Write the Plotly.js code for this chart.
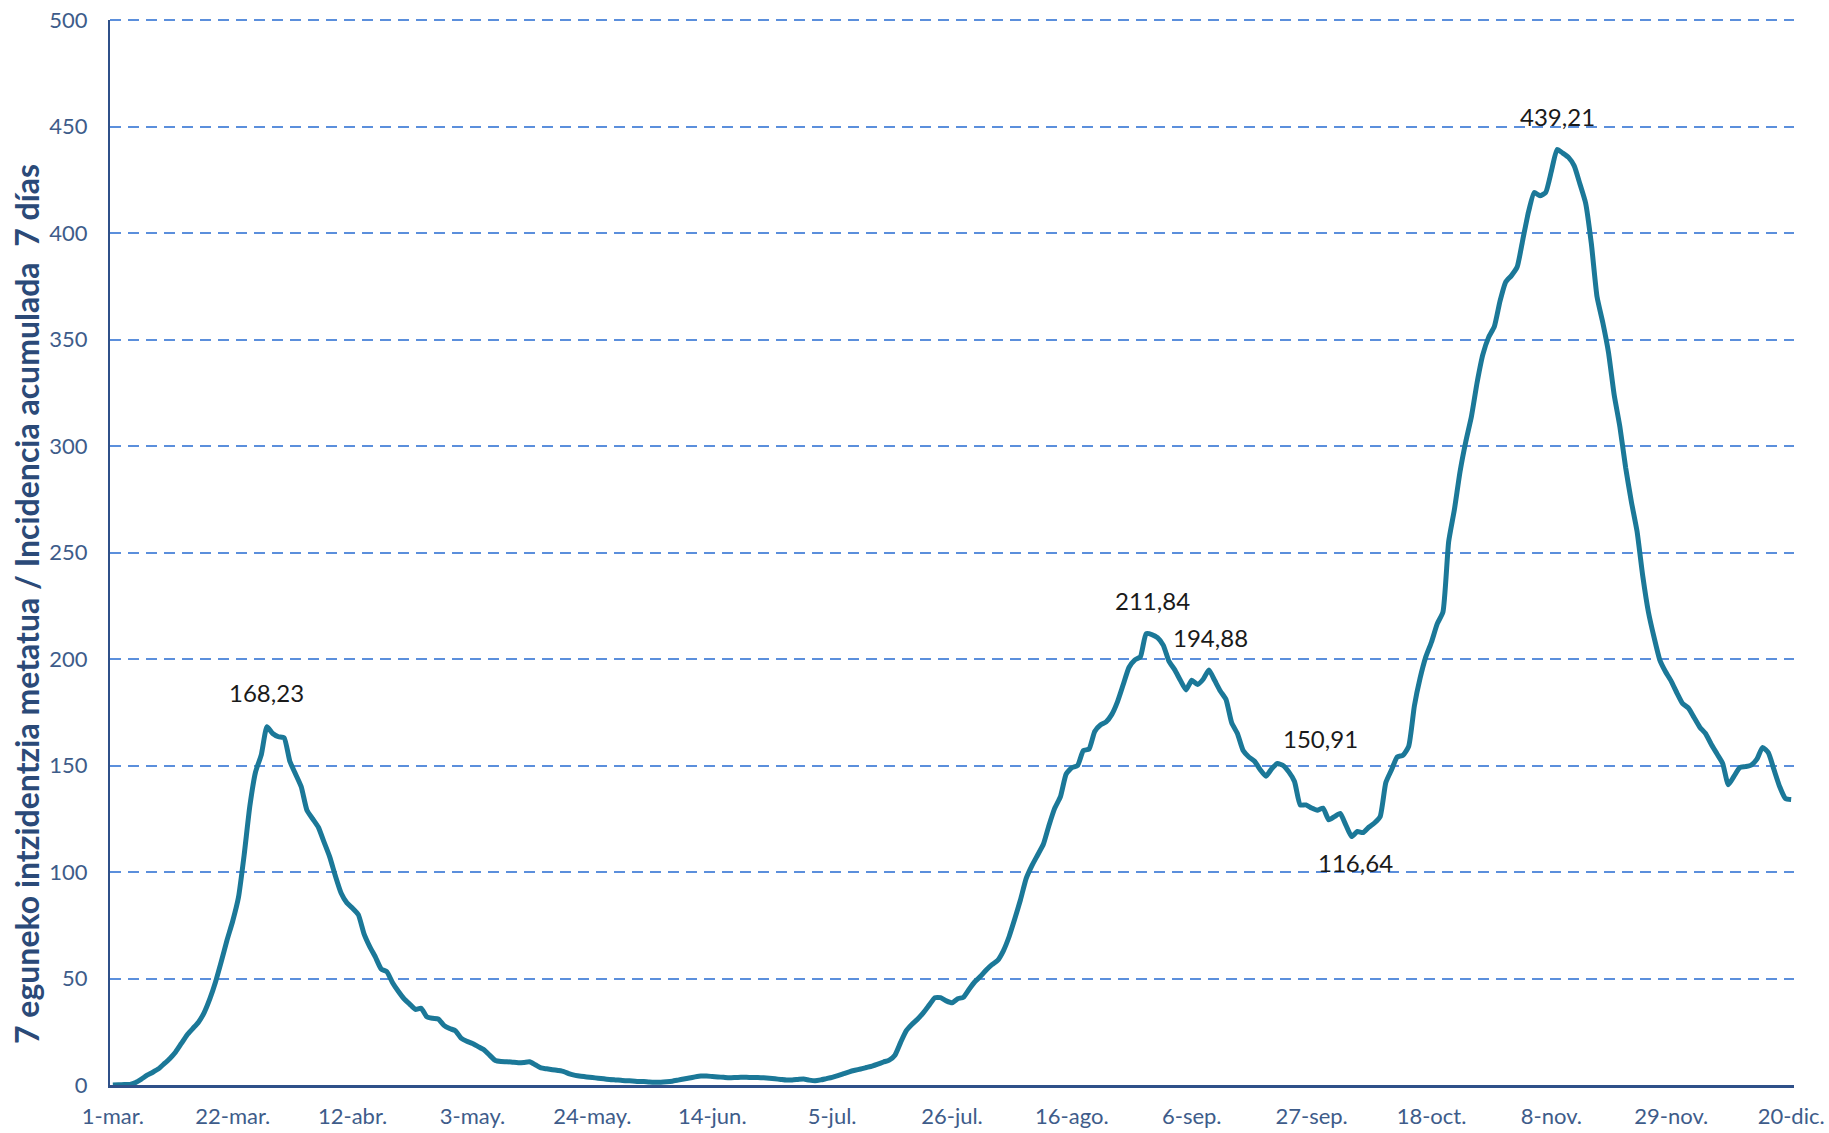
<!DOCTYPE html>
<html>
<head>
<meta charset="utf-8">
<script src="https://cdn.plot.ly/plotly-3.0.1.min.js"></script>
<style>
  html, body { margin: 0; padding: 0; background: #ffffff; }
  #chart { width: 1829px; height: 1133px; }
</style>
</head>
<body>
<div id="chart"></div>
<script>
// ---- DATA ----
const startDate = '2020-03-01';   // first daily value (1-mar.)
const incidence7d = [
  0, 0.1, 0.2, 0.3, 1.2, 2.8, 4.6, 6, 7.6, 10,
  12.5, 15.5, 19.5, 23.5, 26.5, 29.5, 34, 40.5, 48.5, 58,
  68, 77, 88, 108, 131, 147, 155, 168.23, 165, 163.5,
  163, 152, 146, 140, 129, 125, 121, 114, 107, 98,
  90, 85.5, 83, 80, 71, 65, 60, 54.5, 53.2, 48,
  44, 40.5, 38, 35.5, 36, 32, 31.3, 31, 28, 26.5,
  25.5, 22, 20.5, 19.5, 18, 16.5, 14, 11.5, 11, 10.9,
  10.7, 10.5, 10.6, 10.9, 9.5, 8, 7.6, 7.2, 6.8, 6.3,
  5.2, 4.5, 4.1, 3.8, 3.5, 3.2, 2.9, 2.6, 2.4, 2.2,
  2.0, 1.9, 1.7, 1.6, 1.4, 1.3, 1.3, 1.5, 1.8, 2.3,
  2.8, 3.3, 3.8, 4.2, 4.2, 4.0, 3.8, 3.6, 3.4, 3.5,
  3.6, 3.6, 3.5, 3.5, 3.4, 3.2, 2.9, 2.6, 2.3, 2.4,
  2.6, 2.8, 2.3, 2.0, 2.4, 3.0, 3.6, 4.4, 5.3, 6.2,
  6.9, 7.5, 8.2, 8.9, 9.8, 10.8, 11.7, 14, 20, 25.5,
  28.5, 31, 34, 37.5, 41, 41, 39.5, 38.6, 40.5, 41.2,
  45, 48.5, 51, 54, 56.5, 58.5, 63, 69.6, 78, 87,
  97, 103, 108, 113, 122, 130, 135.4, 146, 149, 150,
  157, 157.7, 166, 169, 170.5, 174, 180, 188, 196, 199.5,
  201, 211.84, 211.5, 210, 206.5, 199, 195, 190, 185.5, 190,
  188, 190.5, 194.88, 190, 185, 181, 170, 165, 157, 154,
  152, 148, 145, 148.5, 150.91, 150, 147, 142.5, 131.5, 131.5,
  130, 129, 130, 124.5, 126, 127.5, 122, 116.64, 119, 118.5,
  121, 123, 126, 142, 148, 154, 154.8, 159, 178, 191,
  201, 208, 216.5, 222, 255, 270, 288, 302, 314, 330,
  343, 351, 356, 368, 377, 380, 384, 397, 410, 419,
  417.5, 419, 429, 439.21, 437.5, 435.5, 431.5, 423, 414, 395,
  370, 358, 344, 324, 309, 290, 274, 260, 239, 222,
  210, 199.5, 194, 189.5, 184, 179, 177, 172.5, 168, 165,
  160, 155.5, 151, 141, 145, 149, 149.5, 150.2, 153, 158.5,
  156, 148, 140, 134.5, 134
];
// indices (days after 1-mar.) of the labelled values
const labelledDays = [27, 181, 192, 204, 217, 253];
const tickDates = ['2020-03-01','2020-03-22','2020-04-12','2020-05-03','2020-05-24',
  '2020-06-14','2020-07-05','2020-07-26','2020-08-16','2020-09-06','2020-09-27',
  '2020-10-18','2020-11-08','2020-11-29','2020-12-20'];
const tickLabels = ['1-mar.','22-mar.','12-abr.','3-may.','24-may.','14-jun.','5-jul.',
  '26-jul.','16-ago.','6-sep.','27-sep.','18-oct.','8-nov.','29-nov.','20-dic.'];
const yRange = [0, 500];
const yStep = 50;
const yTitle = '7 eguneko intzidentzia metatua / Incidencia acumulada  7 días';

// ---- BUILD ----
function dayStr(i) {
  const d = new Date(startDate + 'T00:00:00Z');
  d.setUTCDate(d.getUTCDate() + i);
  return d.toISOString().slice(0, 10);
}
const dates = incidence7d.map((_, i) => dayStr(i));
function halfDayShift(iso, hrs) {
  const d = new Date(iso + 'T00:00:00Z');
  d.setUTCHours(d.getUTCHours() + hrs);
  return d.toISOString().replace('T', ' ').slice(0, 19);
}
const xRange = [halfDayShift(dates[0], -12), halfDayShift(dates[dates.length - 1], 12)];

// label offsets (pixels) relative to the labelled point
const labelShift = [[0, 34], [6, 33], [2, 32], [43, 25], [4, -26], [0, 33]];
const FONT = 'Lato, "Open Sans", sans-serif';
const GRID = { color: '#5b8fdc', width: 2, dash: '11px,7px' };

const annotations = labelledDays.map((d, k) => ({
  x: dates[d], y: incidence7d[d], xref: 'x', yref: 'y',
  text: incidence7d[d].toFixed(2).replace('.', ','),
  showarrow: false, xshift: labelShift[k][0], yshift: labelShift[k][1],
  font: { family: FONT, size: 24, color: '#1a1a1a' }
}));
annotations.push({
  xref: 'paper', yref: 'paper', x: -0.0499, y: 0.4516,
  text: '<b>' + yTitle + '</b>', textangle: -90, showarrow: false,
  xanchor: 'center', yanchor: 'middle',
  font: { family: FONT, size: 32, color: '#2b4a78' }
});

// top gridline at the top of the y range (Plotly drops gridlines lying on the plot edge);
// paper-referenced so it is not clipped to half its width
const shapes = [{
  type: 'line', xref: 'paper', yref: 'paper', x0: 0, x1: 1, y0: 1, y1: 1,
  line: { color: GRID.color, width: GRID.width, dash: GRID.dash }, layer: 'below'
}];

const trace = {
  x: dates, y: incidence7d, type: 'scatter', mode: 'lines',
  line: { color: '#1b7898', width: 5, shape: 'spline', smoothing: 0.5 },
  hoverinfo: 'x+y'
};

const layout = {
  width: 1829, height: 1133,
  margin: { l: 110, r: 35, t: 20, b: 48 },
  paper_bgcolor: '#ffffff', plot_bgcolor: '#ffffff',
  showlegend: false,
  xaxis: {
    type: 'date', range: xRange,
    tickvals: tickDates, ticktext: tickLabels,
    showgrid: false, zeroline: false,
    showline: true, linecolor: '#2f5089', linewidth: 3,
    ticks: '', ticklabelstandoff: 10,
    tickfont: { family: FONT, size: 22, color: '#3e5c8a' }
  },
  yaxis: {
    range: yRange, tick0: 0, dtick: yStep,
    showgrid: true, gridcolor: GRID.color, gridwidth: GRID.width, griddash: GRID.dash,
    zeroline: false,
    showline: true, linecolor: '#2f5089', linewidth: 2,
    ticks: '', ticklabelstandoff: 16,
    tickfont: { family: FONT, size: 22, color: '#3e5c8a' }
  },
  shapes: shapes,
  annotations: annotations
};

Plotly.newPlot('chart', [trace], layout, { displayModeBar: false, staticPlot: true });
</script>
</body>
</html>
